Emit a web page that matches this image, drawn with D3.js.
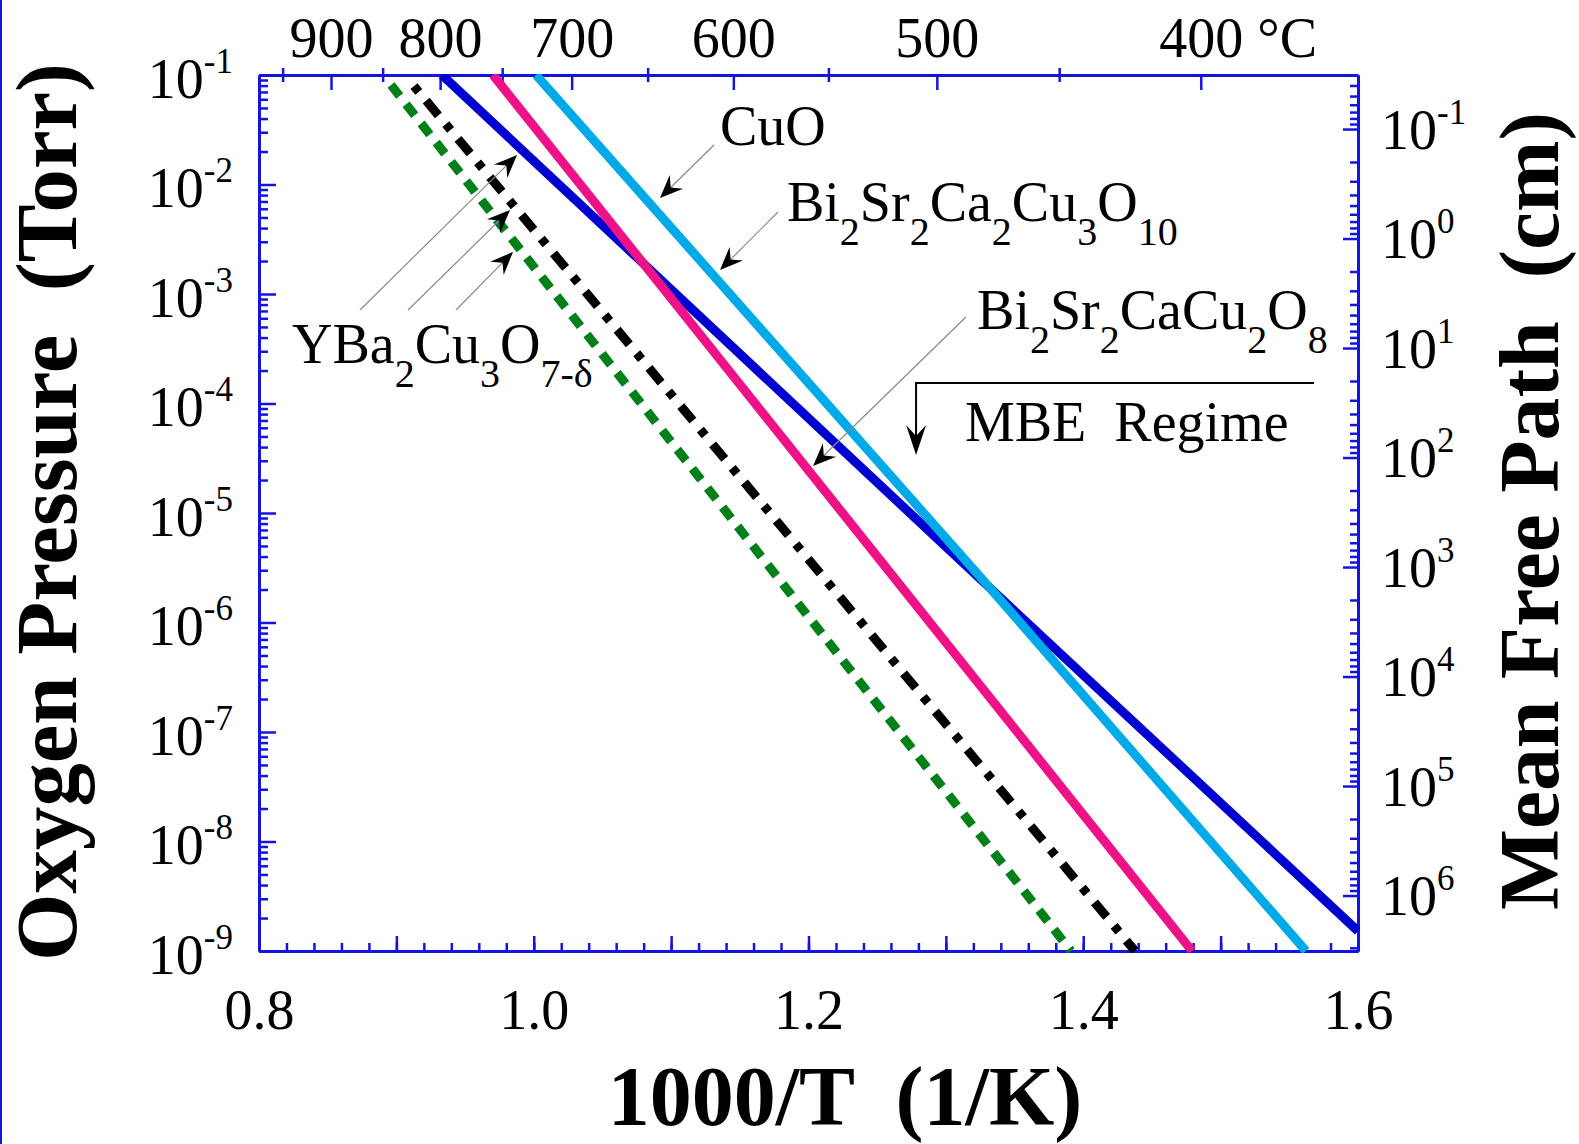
<!DOCTYPE html>
<html><head><meta charset="utf-8">
<script src="https://cdn.jsdelivr.net/npm/d3@7"></script>
<style>
body{margin:0;background:#fff}
svg{display:block}
text{font-family:"Liberation Serif","Times New Roman",serif}
</style>
</head><body>
<svg id="c" width="1579" height="1144"></svg>
<script>
// ---------------- data ----------------
const xDomain = [0.8, 1.6];                 // 1000/T (1/K)
const pDomain = [1e-1, 1e-9];               // oxygen pressure (Torr), top -> bottom
const mfpDomain = [0.0321, 3.21e6];         // mean free path (cm), top -> bottom
const bottomMajorTicks = [0.8, 0.9, 1.0, 1.1, 1.2, 1.3, 1.4, 1.5, 1.6];
const bottomLabels = [0.8, 1.0, 1.2, 1.4, 1.6];
const topMajorTemps = [900, 800, 700, 600, 500, 400];   // deg C
const topMinorTemps = [950, 850, 750, 650, 550, 450];
const leftExponents = [-1, -2, -3, -4, -5, -6, -7, -8, -9];
const rightExponents = [-1, 0, 1, 2, 3, 4, 5, 6];

// series: [1000/T, p (Torr)]
const cuoBi2223 = [[1.0017, 1e-1], [1.3321, 2.065e-6], [1.5621, 1e-9]];
const bi2212    = [[0.9703, 1e-1], [1.4792, 1e-9]];
const ybcoA     = [[0.9332, 1e-1], [1.3321, 2.065e-6], [1.6000, 1.52e-9]];
const ybcoB     = [[0.9128, 0.0793], [1.4377, 1e-9]];
const ybcoC     = [[0.8961, 0.0810], [1.3911, 1e-9]];

// annotation labels: parts [text, isSubscript], anchor [1000/T, log10 p]
const labelCuO    = [["CuO", 0]];
const labelBi2223 = [["Bi",0],["2",1],["Sr",0],["2",1],["Ca",0],["2",1],["Cu",0],["3",1],["O",0],["10",1]];
const labelBi2212 = [["Bi",0],["2",1],["Sr",0],["2",1],["CaCu",0],["2",1],["O",0],["8",1]];
const labelYBCO   = [["YBa",0],["2",1],["Cu",0],["3",1],["O",0],["7-\u03b4",1]];
const labelMBE    = [["MBE  Regime",0]];
const labelAnchors = [[1.1356,-1.639],[1.1843,-2.333],[1.3227,-3.320],[0.8240,-3.630],[1.3139,-4.342]];
// arrows: from -> to in [1000/T, log10 p]
const arrowFrom = [[1.1312,-1.639],[1.1778,-2.251],[1.3146,-3.210],[0.8735,-3.146],[0.9085,-3.146],[0.9434,-3.146]];
const arrowTo   = [[1.0919,-2.123],[1.1356,-2.781],[1.2033,-4.571],[0.9878,-1.731],[0.9827,-2.233],[0.9849,-2.616]];
const mbeBracket = [[1.5680,-3.813],[1.2783,-3.813],[1.2783,-4.470]];

// ---------------- layout / style ----------------
const W = 1579, H = 1144;
const plot = {left:259, top:75, right:1358, bottom:951};
const AX = "#1414e0";
const FS = 56, SUP = 35, SUB = 40;
const seriesStyle = [
  {data: ybcoA, color:"#0000d0", dash:null},
  {data: bi2212, color:"#ee1188", dash:null},
  {data: cuoBi2223, color:"#00aae8", dash:null},
  {data: ybcoB, color:"#000000", dash:"7.5,11.6,19,11.6"},
  {data: ybcoC, color:"#008018", dash:"14,10.4"}
];

const svg = d3.select("#c");
const x = d3.scaleLinear().domain(xDomain).range([plot.left, plot.right]);
const y = d3.scaleLog().domain(pDomain).range([plot.top, plot.bottom]);
const yR = d3.scaleLog().domain(mfpDomain).range([plot.top, plot.bottom]);
const yl = v => y(Math.pow(10, v));

svg.append("rect").attr("x",0).attr("y",0).attr("width",2).attr("height",H).attr("fill",AX);

function styleAxis(g){
  g.select(".domain").attr("stroke",AX).attr("stroke-width",3);
  g.selectAll(".tick line").attr("stroke",AX).attr("stroke-width",2.5);
  g.selectAll(".tick text").attr("font-family",'"Liberation Serif","Times New Roman",serif')
    .attr("font-size",FS).attr("fill","#000");
}
function powLabel(t, exp){
  t.text(null);
  t.append("tspan").text("10");
  t.append("tspan").attr("dy",-25).attr("font-size",SUP).text(String(exp));
}

// left axis
const leftMinor = [];
for (let e=-9; e<=-2; e++) for (let k=2;k<=9;k++) leftMinor.push(k*Math.pow(10,e));
const gLm = svg.append("g").attr("transform",`translate(${plot.left},0)`)
  .call(d3.axisLeft(y).tickValues(leftMinor).tickSizeInner(-9).tickSizeOuter(0).tickFormat(()=>""));
styleAxis(gLm);
const gL = svg.append("g").attr("transform",`translate(${plot.left},0)`)
  .call(d3.axisLeft(y).tickValues(leftExponents.map(e=>Math.pow(10,e))).tickSizeInner(-17).tickSizeOuter(0).tickPadding(26));
styleAxis(gL);
gL.selectAll(".tick text").each(function(d){
  const t=d3.select(this).attr("dy",null).attr("y",22).attr("text-anchor","end");
  powLabel(t, Math.round(Math.log10(d)));
});

// right axis
const rightMinor = [];
for (let e=-2; e<=6; e++) for (let k=2;k<=9;k++){const v=k*Math.pow(10,e); if(v>=mfpDomain[0]&&v<=mfpDomain[1]) rightMinor.push(v);}
const gRm = svg.append("g").attr("transform",`translate(${plot.right},0)`)
  .call(d3.axisRight(yR).tickValues(rightMinor).tickSizeInner(-8).tickSizeOuter(0).tickFormat(()=>""));
styleAxis(gRm);
const gR = svg.append("g").attr("transform",`translate(${plot.right},0)`)
  .call(d3.axisRight(yR).tickValues(rightExponents.map(e=>Math.pow(10,e))).tickSizeInner(-15).tickSizeOuter(0).tickPadding(23));
styleAxis(gR);
gR.selectAll(".tick text").each(function(d){
  const t=d3.select(this).attr("dy",null).attr("y",19).attr("text-anchor","start");
  powLabel(t, Math.round(Math.log10(d)));
});

// bottom axis
const bottomMinor = d3.range(0, 41).map(i => xDomain[0] + i*0.02);
const gBm = svg.append("g").attr("transform",`translate(0,${plot.bottom})`)
  .call(d3.axisBottom(x).tickValues(bottomMinor).tickSizeInner(-8).tickSizeOuter(0).tickFormat(()=>""));
styleAxis(gBm);
const gB = svg.append("g").attr("transform",`translate(0,${plot.bottom})`)
  .call(d3.axisBottom(x).tickValues(bottomMajorTicks).tickSizeInner(-15).tickSizeOuter(0)
    .tickFormat(d => bottomLabels.some(v=>Math.abs(v-d)<1e-9) ? d3.format(".1f")(d) : ""));
styleAxis(gB);
gB.selectAll(".tick text").attr("dy",null).attr("y",78);

// top axis (temperature in deg C)
const tc = c => 1000/(c+273.15);
const gT = svg.append("g").attr("transform",`translate(0,${plot.top})`)
  .call(d3.axisTop(x).tickValues(topMajorTemps.map(tc)).tickSizeInner(-15).tickSizeOuter(0)
    .tickFormat((d,i)=>String(topMajorTemps[i])));
styleAxis(gT);
gT.selectAll(".tick text").attr("dy",null).attr("y",-18);
gT.selectAll(".tick text").filter((d,i)=>i===topMajorTemps.length-1).each(function(){
  const t=d3.select(this); const s=t.text(); t.text(null);
  const a=t.append("tspan").text(s); t.append("tspan").text(" \u00b0C");
  const w=a.node().getComputedTextLength();
  t.attr("text-anchor","start").attr("x",-w/2);
});
gT.selectAll("line.minor").data(topMinorTemps).join("line").attr("class","minor")
  .attr("x1",d=>x(tc(d))).attr("x2",d=>x(tc(d))).attr("y1",-7).attr("y2",7)
  .attr("stroke",AX).attr("stroke-width",2.5);

// data lines
svg.append("clipPath").attr("id","clip").append("rect")
  .attr("x",plot.left-2).attr("y",plot.top-1).attr("width",plot.right-plot.left+4).attr("height",plot.bottom-plot.top+3);
const line = d3.line().x(d=>x(d[0])).y(d=>y(d[1]));
svg.append("g").attr("clip-path","url(#clip)").selectAll("path").data(seriesStyle).join("path")
  .attr("d",d=>line(d.data)).attr("fill","none").attr("stroke",d=>d.color)
  .attr("stroke-width",9).attr("stroke-dasharray",d=>d.dash);

// annotation arrows
function arrowHead(g, tx, ty, ux, uy, L, Hw, N){
  const px=-uy, py=ux;
  const pts=[[tx,ty],[tx-L*ux+Hw*px,ty-L*uy+Hw*py],[tx-N*ux,ty-N*uy],[tx-L*ux-Hw*px,ty-L*uy-Hw*py]];
  g.append("path").attr("d","M"+pts.map(p=>p.join(",")).join("L")+"Z").attr("fill","#000");
}
const ga = svg.append("g");
arrowFrom.forEach((f,i)=>{
  const x1=x(f[0]), y1=yl(f[1]), x2=x(arrowTo[i][0]), y2=yl(arrowTo[i][1]);
  const len=Math.hypot(x2-x1,y2-y1), ux=(x2-x1)/len, uy=(y2-y1)/len;
  ga.append("line").attr("x1",x1).attr("y1",y1).attr("x2",x2-10*ux).attr("y2",y2-10*uy)
    .attr("stroke","#8a8a8a").attr("stroke-width",1.2);
  arrowHead(ga,x2,y2,ux,uy,23,9.5,15);
});
// MBE bracket
const mb = mbeBracket.map(p=>[x(p[0]), yl(p[1])]);
ga.append("path").attr("d",`M${mb[0][0]},${mb[0][1]}L${mb[1][0]},${mb[1][1]}L${mb[2][0]},${mb[2][1]-15}`)
  .attr("fill","none").attr("stroke","#000").attr("stroke-width",2);
arrowHead(ga, mb[2][0], mb[2][1], 0, 1, 30, 10, 19);

// annotation labels
[labelCuO,labelBi2223,labelBi2212,labelYBCO,labelMBE].forEach((parts,i)=>{
  const t=svg.append("text").attr("x",x(labelAnchors[i][0])).attr("y",yl(labelAnchors[i][1]))
    .attr("font-size",FS).attr("fill","#000").style("white-space","pre");
  let sub=false;
  parts.forEach(([s,isSub])=>{
    const ts=t.append("tspan").text(s);
    if(isSub && !sub){ ts.attr("dy",24).attr("font-size",SUB); sub=true; }
    else if(isSub){ ts.attr("font-size",SUB); }
    else if(!isSub && sub){ ts.attr("dy",-24); sub=false; }
  });
});

// axis titles
svg.append("text").attr("x",845).attr("y",1125).attr("text-anchor","middle")
  .attr("font-size",84).attr("font-weight","bold").style("white-space","pre").text("1000/T  (1/K)");
svg.append("text").attr("transform","translate(76,512) rotate(-90)").attr("text-anchor","middle")
  .attr("font-size",86).attr("font-weight","bold").style("white-space","pre")
  .attr("textLength",898).attr("lengthAdjust","spacingAndGlyphs").text("Oxygen Pressure  (Torr)");
svg.append("text").attr("transform","translate(1558,511) rotate(-90)").attr("text-anchor","middle")
  .attr("font-size",84).attr("font-weight","bold").style("white-space","pre")
  .attr("textLength",798).attr("lengthAdjust","spacingAndGlyphs").text("Mean Free Path  (cm)");
</script>
</body></html>
